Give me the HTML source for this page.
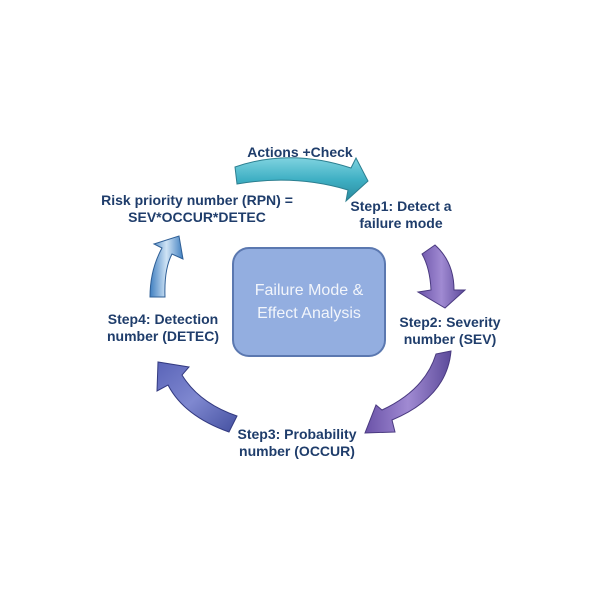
<!DOCTYPE html>
<html><head><meta charset="utf-8"><style>
body{margin:0;background:#fff;}
svg{display:block;}
text{font-family:"Liberation Sans",sans-serif;font-weight:bold;fill:#1f3d6b;font-size:14px;text-anchor:middle;}
</style></head><body>
<svg width="600" height="600" viewBox="0 0 600 600">
<defs>
<linearGradient id="teal" x1="0" y1="0" x2="0" y2="1"><stop offset="0" stop-color="#7fd3e0"/><stop offset="0.5" stop-color="#3fb0c4"/><stop offset="1" stop-color="#2a8a9e"/></linearGradient>
<linearGradient id="purp" x1="0" y1="0" x2="1" y2="0"><stop offset="0" stop-color="#6a52a8"/><stop offset="0.5" stop-color="#a08ad2"/><stop offset="1" stop-color="#5c4a9a"/></linearGradient>
<linearGradient id="blu" x1="0" y1="0" x2="1" y2="1"><stop offset="0" stop-color="#5a64b8"/><stop offset="0.5" stop-color="#7f88d0"/><stop offset="1" stop-color="#4450a0"/></linearGradient>
<linearGradient id="lb" x1="0" y1="0" x2="1" y2="0"><stop offset="0" stop-color="#3f7fc0"/><stop offset="0.5" stop-color="#cfe3f5"/><stop offset="1" stop-color="#3f7fc0"/></linearGradient>
</defs>
<path d="M235,167 Q290,148 351,168 L356,158 L368,181 L346,201 L348,190 Q295,174 237,184 Z" fill="url(#teal)" stroke="#2c7f90" stroke-width="1"/>
<path d="M422,254 L435,245 Q454,262 454,290 L465,290 L445,308 L418,292 L431,290 Q430,268 422,254 Z" fill="url(#purp)" stroke="#4a3a80" stroke-width="1"/>
<path d="M436,354 L451,351 Q447,397 392,420 L395,432 L365,433 L376,405 L382,410 Q425,390 436,354 Z" fill="url(#purp)" stroke="#4a3a80" stroke-width="1"/>
<path d="M237,416 L229,432 Q184,416 168,385 L157,391 L158,362 L189,367 L182,375 Q199,403 237,416 Z" fill="url(#blu)" stroke="#333a80" stroke-width="1"/>
<path d="M150,297 L165,297 Q164,269 172,254 L183,259 L179,236 L154,244 L162,248 Q150,270 150,297 Z" fill="url(#lb)" stroke="#2f5f96" stroke-width="1"/>
<rect x="233" y="248" width="152" height="108" rx="16" fill="#93aee0" stroke="#5b78b0" stroke-width="2"/>
<text x="309" y="295" style="font-weight:normal;fill:#f2f5fb;font-size:16px">Failure Mode &amp;</text>
<text x="309" y="318" style="font-weight:normal;fill:#f2f5fb;font-size:16px">Effect Analysis</text>
<text x="300" y="157">Actions +Check</text>
<text x="197" y="205">Risk priority number (RPN) =</text>
<text x="197" y="222">SEV*OCCUR*DETEC</text>
<text x="401" y="211">Step1: Detect a</text>
<text x="401" y="228">failure mode</text>
<text x="450" y="327">Step2: Severity</text>
<text x="450" y="344">number (SEV)</text>
<text x="163" y="324">Step4: Detection</text>
<text x="163" y="341">number (DETEC)</text>
<text x="297" y="439">Step3: Probability</text>
<text x="297" y="456">number (OCCUR)</text>
</svg>
</body></html>
